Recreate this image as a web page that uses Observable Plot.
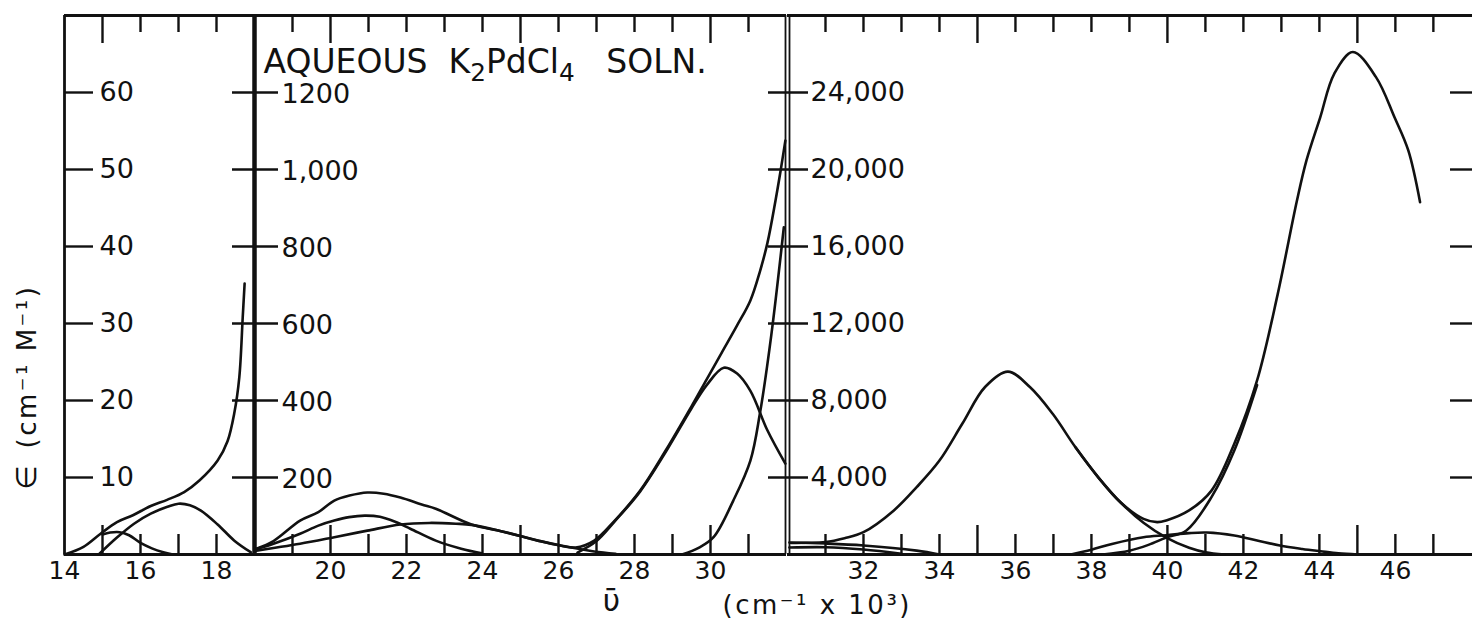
<!DOCTYPE html>
<html><head><meta charset="utf-8">
<script src="https://cdn.jsdelivr.net/npm/d3@7"></script>
<script src="https://cdn.jsdelivr.net/npm/@observablehq/plot@0.6"></script>
<style>
html,body{margin:0;padding:0;background:#fff;}
#chart{position:relative;width:1472px;height:621px;overflow:hidden;background:#fff;}
#chart svg{position:absolute;left:0;top:0;}
</style></head><body><div id="chart"></div>
<script>
// ---------- DATA (x in 10^3 cm^-1, epsilon in cm^-1 M^-1) ----------
// Panel 1 (14-19)
const p1TotalX = [14.0, 14.5, 14.95, 15.38, 15.8, 16.27, 16.7, 17.15, 17.55, 18.03, 18.29, 18.47, 18.6, 18.69, 18.74];
const p1TotalY = [0, 1.0, 2.7, 4.2, 5.1, 6.3, 7.1, 8.1, 9.6, 12.2, 14.7, 18.4, 23, 30.8, 35.2];
const p1BandAX = [15.0, 15.2, 15.45, 15.7, 16.0, 16.3, 16.6, 16.85];
const p1BandAY = [2.6, 2.85, 2.9, 2.5, 1.5, 0.8, 0.3, 0];
const p1BandBX = [14.9, 15.38, 15.83, 16.27, 16.71, 17.0, 17.3, 17.59, 18.03, 18.47, 18.9];
const p1BandBY = [0, 2.2, 4.0, 5.3, 6.2, 6.6, 6.4, 5.7, 3.9, 1.8, 0.3];

// Panel 2 (18-32)
const p2TotalX = [18.05, 18.5, 19.2, 19.68, 20.1, 20.5, 20.97, 21.4, 21.84, 22.4, 22.77, 23.71, 24.52, 25.46, 26.0, 26.45, 26.94, 27.48, 28.15, 28.82, 29.49, 29.9, 30.3, 30.7, 31.05, 31.3, 31.5, 31.71, 31.85, 31.97];
const p2TotalY = [15, 35, 88, 110, 140, 153, 161, 158, 148, 130, 119, 78, 60, 36, 24, 18, 36, 88, 166, 270, 383, 455, 525, 595, 660, 735, 810, 919, 1000, 1075];
const p2BandAX = [18.05, 18.5, 19.2, 19.68, 20.1, 20.49, 20.9, 21.3, 21.7, 22.1, 22.77, 23.44, 23.98];
const p2BandAY = [14, 28, 54, 75, 88, 97, 101, 98, 85, 67, 36, 15, 3];
const p2BandBX = [18.05, 18.5, 19.2, 20.1, 20.97, 21.84, 22.6, 23.3, 23.71, 24.52, 25.46, 26.13, 26.94, 27.5];
const p2BandBY = [10, 17, 28, 45, 62, 78, 82, 80, 77, 60, 36, 22, 8, 2];
const p2BandCX = [26.5, 27.0, 27.48, 28.15, 28.82, 29.49, 29.9, 30.35, 30.7, 31.05, 31.5, 31.97];
const p2BandCY = [5, 35, 86, 164, 266, 378, 440, 485, 470, 425, 322, 236];
const p2BandDX = [29.25, 29.7, 30.08, 30.6, 31.05, 31.3, 31.6, 31.93];
const p2BandDY = [0, 18, 45, 140, 244, 366, 570, 850];

// Panel 3 (30-48)
const p3TotalX = [30.1, 30.5, 31.0, 31.5, 32.0, 32.8, 33.4, 34.0, 34.6, 35.2, 35.8, 36.38, 36.98, 37.58, 38.18, 38.77, 39.37, 39.73, 39.97, 40.57, 41.16, 41.76, 42.36, 42.9, 43.41, 43.66, 44.02, 44.39, 44.88, 45.49, 45.98, 46.34, 46.65];
const p3TotalY = [600, 610, 650, 850, 1160, 2290, 3500, 4880, 6790, 8700, 9500, 8700, 7310, 5570, 4010, 2700, 1850, 1680, 1770, 2290, 3320, 5750, 9040, 13500, 18390, 20470, 22700, 24970, 26100, 24800, 22700, 20990, 18300];
const p3BandDX = [37.58, 38.18, 38.77, 39.37, 39.97, 40.57, 41.0, 41.5];
const p3BandDY = [5570, 4010, 2700, 1650, 880, 350, 120, 0];
const p3BandEX = [38.3, 39.0, 39.5, 39.97, 40.5, 41.16, 41.76, 42.36];
const p3BandEY = [0, 200, 500, 880, 1250, 2980, 5400, 8800];
const p3BandFX = [37.46, 38.0, 38.54, 39.37, 39.97, 40.57, 41.04, 41.76, 42.36, 42.96, 43.55, 44.03, 44.5, 45.0];
const p3BandFY = [0, 250, 550, 900, 1000, 1110, 1140, 990, 730, 470, 290, 170, 60, 0];
const p3TailGX = [30.05, 31.0, 32.0, 33.4, 34.0];
const p3TailGY = [620, 570, 470, 200, 0];
const p3TailHX = [30.05, 31.0, 32.0, 33.0];
const p3TailHY = [360, 380, 260, 40];

// Ticks & labels
const p1XLabels = [14, 16, 18];
const p2XLabels = [20, 22, 24, 26, 28, 30];
const p3XLabels = [32, 34, 36, 38, 40, 42, 44, 46];
const p1MinorTicks = [16, 17, 18];
const p1MajorTicks = [15];
const p2MinorTicks = [19, 21, 22, 23, 24, 26, 27, 28, 29, 31];
const p2MajorTicks = [20, 25, 30];
const p3MinorTicks = [31, 32, 33, 34, 36, 37, 38, 39, 41, 42, 43, 44, 46, 47];
const p3MajorTicks = [35, 40, 45];
const p1YTicks = [10, 20, 30, 40, 50, 60];
const p1YLabels = ["10", "20", "30", "40", "50", "60"];
const p2YTicks = [200, 400, 600, 800, 1000, 1200];
const p2YLabels = ["200", "400", "600", "800", "1,000", "1200"];
const p3YTicks = [4000, 8000, 12000, 16000, 20000, 24000];
const p3YLabels = ["4,000", "8,000", "12,000", "16,000", "20,000", "24,000"];

// Title pieces: [text, isSubscript]
const titleParts = [["AQUEOUS\u00A0\u00A0K", false], ["2", true], ["PdCl", false], ["4", true], ["\u00A0\u00A0\u00A0SOLN.", false]];
const yTitleSym = "\u2208";
const yTitleUnit = "(cm\u207B\u00B9\u00A0M\u207B\u00B9)";
const xTitleSym = "\u1FE1";
const xTitleUnit = "(cm\u207B\u00B9\u00A0x\u00A010\u00B3)";

// ---------- LAYOUT ----------
const W = 1472, H = 621, MT = 15, MB = 67;
const FONT = "'DejaVu Sans', sans-serif";
const SW = 2.6;
const pts = (xs, ys) => xs.map((x, i) => ({x, y: ys[i]}));
const titleText = titleParts.map(p => p[0]).join("");

function panel(cfg) {
  const pxY = (H - MT - MB) / cfg.yMax;
  const pxX = (cfg.right - cfg.left) / (cfg.xDomain[1] - cfg.xDomain[0]);
  const ly = px => px / pxY, lx = px => px / pxX;
  const [x0] = cfg.xDomain, yMax = cfg.yMax;
  const lbl = new Map(cfg.yTicks.map((t, i) => [t, cfg.yLabels[i]]));
  const marks = [
    Plot.ruleY([0], {strokeWidth: 2.8}),
    Plot.ruleY([yMax], {strokeWidth: 2.8}),
    Plot.ruleX(cfg.minor, {y1: 0, y2: ly(20), strokeWidth: 2.4}),
    Plot.ruleX(cfg.major, {y1: 0, y2: ly(29), strokeWidth: 2.4}),
    Plot.ruleX(cfg.minor, {y1: yMax, y2: yMax - ly(17), strokeWidth: 2.4}),
    Plot.ruleX(cfg.major, {y1: yMax, y2: yMax - ly(28), strokeWidth: 2.4}),
    Plot.ruleY(cfg.yTicks, {x1: x0 - lx(cfg.tickIn), x2: x0 + lx(cfg.tickOut), strokeWidth: 2.4}),
    Plot.axisX({ticks: cfg.xLabels, tickSize: 0, tickPadding: 7, label: null, fontSize: 25, tickFormat: d => String(d)}),
    Plot.axisY({ticks: cfg.yTicks, tickSize: 0, tickPadding: 0, label: null, textAnchor: "start", dx: cfg.labelDx, dy: cfg.labelDy || 0, fontSize: 27, tickFormat: d => lbl.get(d)}),
    ...cfg.series.map(s => Plot.line(s, {x: "x", y: "y", curve: "catmull-rom", strokeWidth: SW, stroke: "#111"})),
    ...(cfg.extra || [])
  ];
  return Plot.plot({
    width: W, height: H,
    marginLeft: cfg.left, marginRight: W - cfg.right, marginTop: MT, marginBottom: MB,
    x: {domain: cfg.xDomain, axis: null},
    y: {domain: [0, yMax], axis: null},
    style: {background: "transparent", overflow: "visible", fontFamily: FONT, fontSize: "26px", color: "#111"},
    marks
  });
}

const p3Right = 48.03;
const panels = [
  panel({
    left: 64, right: 254, xDomain: [14, 19], yMax: 70,
    xLabels: p1XLabels, minor: p1MinorTicks, major: p1MajorTicks,
    yTicks: p1YTicks, yLabels: p1YLabels, tickIn: 0, tickOut: 29, labelDx: 35,
    series: [pts(p1TotalX, p1TotalY), pts(p1BandAX, p1BandAY), pts(p1BandBX, p1BandBY)],
    extra: [
      Plot.ruleX([14], {strokeWidth: 2.8}),
      Plot.ruleX([19], {strokeWidth: 4.5}),
      Plot.text([yTitleSym], {frameAnchor: "bottom-left", dx: -37, dy: -77, rotate: -90, textAnchor: "middle", lineAnchor: "middle", fontSize: 28}),
      Plot.text([yTitleUnit], {frameAnchor: "bottom-left", dx: -37, dy: -106, rotate: -90, textAnchor: "start", lineAnchor: "middle", fontSize: 26})
    ]
  }),
  panel({
    left: 254, right: 786, xDomain: [18, 32], yMax: 1400,
    xLabels: p2XLabels, minor: p2MinorTicks, major: p2MajorTicks,
    yTicks: p2YTicks, yLabels: p2YLabels, tickIn: 22, tickOut: 24, labelDx: 27, labelDy: 2,
    series: [pts(p2TotalX, p2TotalY), pts(p2BandAX, p2BandAY), pts(p2BandBX, p2BandBY), pts(p2BandCX, p2BandCY), pts(p2BandDX, p2BandDY)],
    extra: [
      Plot.text([titleText], {frameAnchor: "top-left", dx: 9, dy: 47, textAnchor: "start", lineAnchor: "middle", fontSize: 33}),
      Plot.text([xTitleSym], {frameAnchor: "bottom-left", dx: 357, dy: 47, textAnchor: "middle", lineAnchor: "middle", fontSize: 30}),
      Plot.text([xTitleUnit], {frameAnchor: "bottom-left", dx: 468, dy: 51, textAnchor: "start", lineAnchor: "middle", fontSize: 26})
    ]
  }),
  panel({
    left: 787, right: 1472, xDomain: [30, p3Right], yMax: 28000,
    xLabels: p3XLabels, minor: p3MinorTicks, major: p3MajorTicks,
    yTicks: p3YTicks, yLabels: p3YLabels, tickIn: 19, tickOut: 21, labelDx: 23,
    series: [pts(p3TotalX, p3TotalY), pts(p3BandDX, p3BandDY), pts(p3BandEX, p3BandEY), pts(p3BandFX, p3BandFY), pts(p3TailGX, p3TailGY), pts(p3TailHX, p3TailHY)],
    extra: [
      Plot.ruleX([30], {dx: -2, strokeWidth: 1.8}),
      Plot.ruleX([30], {dx: 2, strokeWidth: 1.8}),
      Plot.ruleY(p3YTicks, {x1: p3Right - 22 / 38, x2: p3Right, strokeWidth: 2.4})
    ]
  })
];
const root = document.getElementById("chart");
panels.forEach(s => root.appendChild(s));

// Title with lowered subscripts (real text in tspans)
d3.selectAll("#chart text").filter(function () { return this.textContent === titleText; }).each(function () {
  const t = d3.select(this);
  t.text(null);
  let shifted = false;
  titleParts.forEach(([s, sub]) => {
    const sp = t.append("tspan").text(s);
    if (sub) { sp.attr("font-size", "0.75em"); if (!shifted) { sp.attr("dy", 8); shifted = true; } }
    else if (shifted) { sp.attr("dy", -8); shifted = false; }
  });
});
// Widely spaced unit strings, as in the original lettering
d3.selectAll("#chart text").filter(function () { return this.textContent === xTitleUnit || this.textContent === yTitleUnit; })
  .style("letter-spacing", "2.5px");
</script>
</body></html>
